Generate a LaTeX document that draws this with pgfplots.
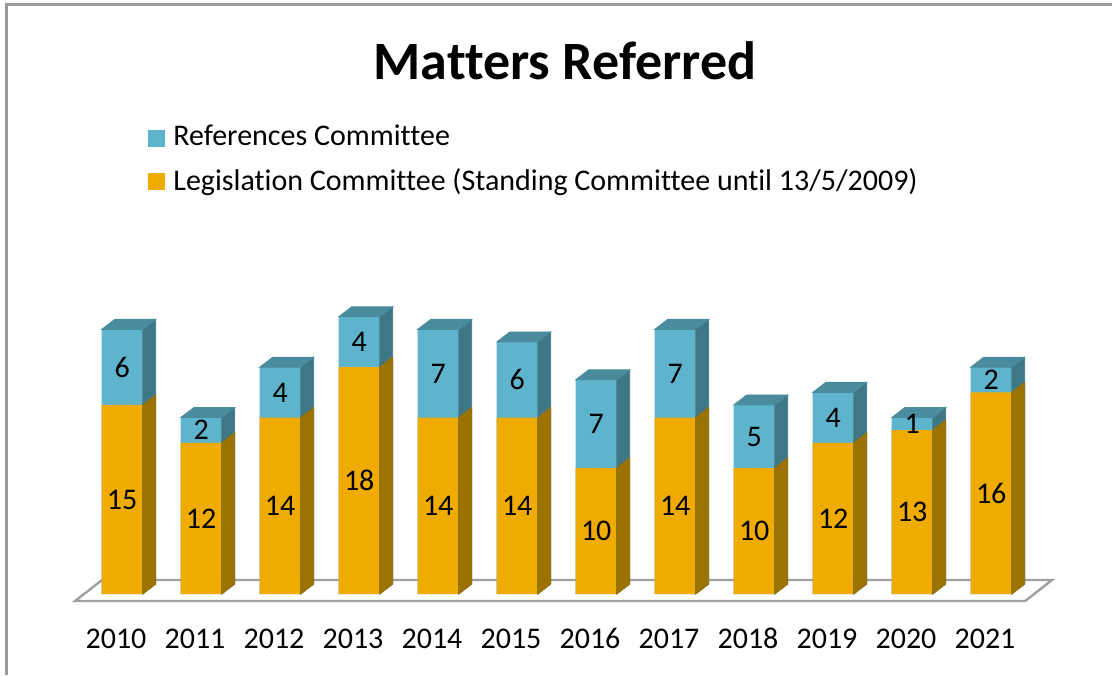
\documentclass[border=0pt]{standalone}
\usepackage{pgfplots}
\pgfplotsset{compat=1.18}
\usepackage{pgfplotstable}
\usepackage{fontspec}
\setmainfont{Carlito}[Ligatures={NoCommon}]
\definecolor{oFront}{HTML}{F0AB00}
\definecolor{oSide}{HTML}{9C7200}
\definecolor{bFront}{HTML}{5EB4CC}
\definecolor{bSide}{HTML}{3E7785}
\definecolor{bTop}{HTML}{4A8C9E}
\definecolor{frameGray}{HTML}{9A9A9A}
\definecolor{floorGray}{HTML}{A0A0A0}
% x: category, L: Legislation, R: References, T: total, Lm/Rm: label heights (segment middles)
\pgfplotstableread{
x  L  R  T   Lm   Rm
0  15 6  21  7.5  18
1  12 2  14  6    13
2  14 4  18  7    16
3  18 4  22  9    20
4  14 7  21  7    17.5
5  14 6  20  7    17
6  10 7  17  5    13.5
7  14 7  21  7    17.5
8  10 5  15  5    12.5
9  12 4  16  6    14
10 13 1  14  6.5  13.5
11 16 2  18  8    17
}\data
\begin{document}
\begin{tikzpicture}
\useasboundingbox (0,0) rectangle (556pt,337.5pt);
% frame (left and top edges)
\draw[frameGray, line width=1.5pt] (3pt,0pt) -- (3pt,335pt) -- (556pt,335pt);
% title
\node[anchor=base, font=\fontsize{27pt}{32pt}\selectfont\bfseries] at (282.5pt,297.5pt) {Matters Referred};
% legend
\fill[bFront] (74pt,264pt) rectangle (82.5pt,272.5pt);
\node[anchor=base west, inner sep=0pt, font=\fontsize{15pt}{18pt}\selectfont] at (86.5pt,264.5pt) {References Committee};
\fill[oFront] (74pt,242.5pt) rectangle (82.5pt,251pt);
\node[anchor=base west, inner sep=0pt, font=\fontsize{15pt}{18pt}\selectfont] at (86.5pt,242pt) {Legislation Committee (Standing Committee until 13/5/2009)};
\begin{axis}[
  at={(61.1pt,40.5pt)}, anchor=origin,
  x=39.5pt, y=6.3pt,
  xmin=-0.7, xmax=11.9, ymin=0, ymax=24,
  clip=false,
  axis line style={draw=none},
  major tick style={draw=none},
  ytick=\empty,
  xtick={0,...,11},
  xticklabels={2010,2011,2012,2013,2014,2015,2016,2017,2018,2019,2020,2021},
  xticklabel style={anchor=base, yshift=-27pt, xshift=-3.1pt, font=\fontsize{15pt}{18pt}\selectfont},
  /pgf/number format/assume math mode=true,
]
% floor
\draw[floorGray, line width=1.2pt, fill=white]
  (axis cs:-0.597,-0.556) -- (axis cs:11.43,-0.556) -- (axis cs:11.77,1.11) -- (axis cs:-0.256,1.11) -- cycle;
% blue front (full height, orange drawn over bottom)
\addplot[ybar, bar width=20.5pt, bar shift=0pt, fill=bFront, draw=none]
  table[x=x, y=T] \data;
% orange front
\addplot[ybar, bar width=20.5pt, bar shift=0pt, fill=oFront, draw=none]
  table[x=x, y=L] \data;
% blue side faces (full height)
\addplot[only marks, mark=*, mark size=0pt, mark options={draw=none,fill=none}, scatter,
  visualization depends on={rawy \as \hh},
  scatter/@pre marker code/.code={%
    \fill[bSide] (10.25pt,0pt) -- (10.25pt,-\hh*6.3pt) -- (16.75pt,-\hh*6.3pt+5pt) -- (16.75pt,5pt) -- cycle;
  },
  scatter/@post marker code/.code={}]
  table[x=x, y=T] \data;
% orange side faces
\addplot[only marks, mark=*, mark size=0pt, mark options={draw=none,fill=none}, scatter,
  visualization depends on={rawy \as \hh},
  scatter/@pre marker code/.code={%
    \fill[oSide] (10.25pt,0pt) -- (10.25pt,-\hh*6.3pt) -- (16.75pt,-\hh*6.3pt+5pt) -- (16.75pt,5pt) -- cycle;
  },
  scatter/@post marker code/.code={}]
  table[x=x, y=L] \data;
% blue top faces
\addplot[only marks, mark=*, mark size=0pt, mark options={draw=none,fill=none}, scatter,
  scatter/@pre marker code/.code={%
    \fill[bTop] (-10.25pt,0pt) -- (10.25pt,0pt) -- (16.75pt,5pt) -- (-3.75pt,5pt) -- cycle;
  },
  scatter/@post marker code/.code={}]
  table[x=x, y=T] \data;
% value labels
\addplot[draw=none, mark=none, nodes near coords, point meta=explicit symbolic,
  every node near coord/.style={anchor=center, font=\fontsize{15pt}{18pt}\selectfont, text=black}]
  table[x=x, y=Lm, meta=L] \data;
\addplot[draw=none, mark=none, nodes near coords, point meta=explicit symbolic,
  every node near coord/.style={anchor=center, font=\fontsize{15pt}{18pt}\selectfont, text=black}]
  table[x=x, y=Rm, meta=R] \data;
\end{axis}
\end{tikzpicture}
\end{document}
